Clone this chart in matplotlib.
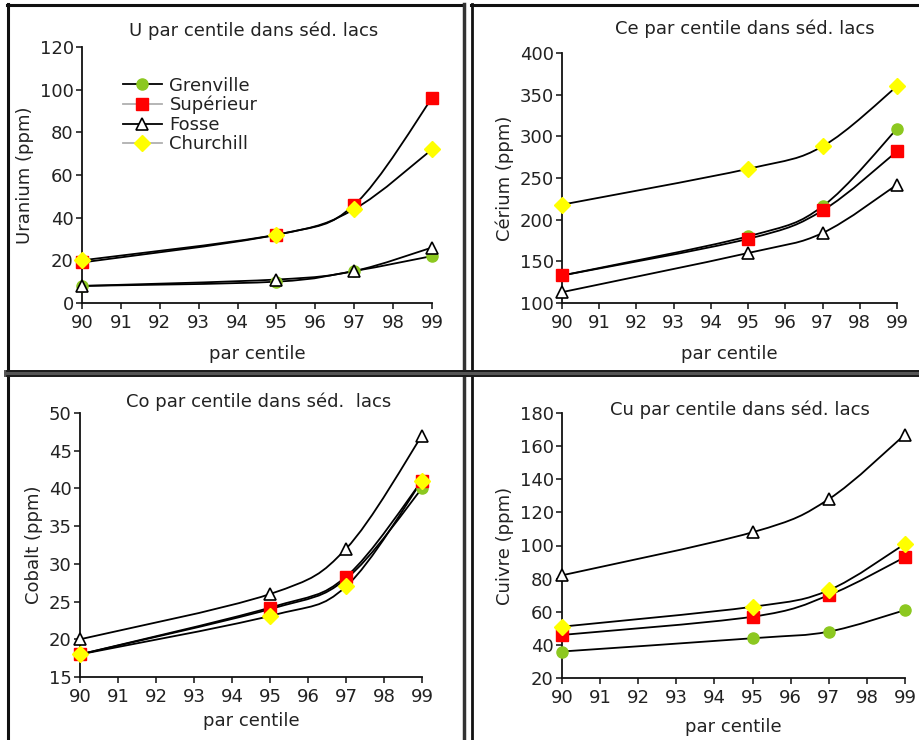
import matplotlib
matplotlib.use("Agg")
import matplotlib.pyplot as plt
from matplotlib.path import Path
from matplotlib.patches import PathPatch
from matplotlib.lines import Line2D

plt.rcParams['font.family'] = ['DejaVu Sans']

# centiles
centiles = [90, 95, 97, 99]
series = ['Grenville', 'Supérieur', 'Fosse', 'Churchill']

# Uranium (ppm)
u_gren = [8, 10, 15, 22]
u_sup = [19, 32, 46, 96]
u_fos = [8, 11, 15, 26]
u_chu = [20, 32, 44, 72]

# Cerium (ppm)
ce_gren = [133, 180, 216, 309]
ce_sup = [133, 177, 211, 282]
ce_fos = [113, 160, 184, 242]
ce_chu = [218, 261, 288, 360]

# Cobalt (ppm)
co_gren = [18, 24, 28, 40]
co_sup = [18, 24.2, 28.3, 41]
co_fos = [20, 26, 32, 47]
co_chu = [18, 23.1, 27, 41]

# Cuivre (ppm)
cu_gren = [36, 44, 48, 61]
cu_sup = [46, 57, 70, 93]
cu_fos = [82, 108, 128, 167]
cu_chu = [51, 63, 73, 101]

styles = {
    'Grenville': dict(marker='o', ms=8, mfc='#8cc820', mec='#8cc820'),
    'Supérieur': dict(marker='s', ms=9, mfc='#ff0000', mec='#ff0000'),
    'Fosse': dict(marker='^', ms=9, mfc='white', mec='black', mew=1.2),
    'Churchill': dict(marker='D', ms=8, mfc='#ffff00', mec='#ffff00'),
}
legend_line = {'Grenville': 'black', 'Supérieur': '#b0b0b0',
               'Fosse': 'black', 'Churchill': '#b0b0b0'}

txt = '#222222'


def smooth_path(x, y):
    # bezier through the points, like a spreadsheet "smoothed line"
    pts = list(zip(x, y))
    n = len(pts)
    verts = [pts[0]]
    codes = [Path.MOVETO]
    for i in range(n - 1):
        p0 = pts[i - 1] if i > 0 else pts[i]
        p1 = pts[i]
        p2 = pts[i + 1]
        p3 = pts[i + 2] if i + 2 < n else pts[i + 1]
        c1 = (p1[0] + (p2[0] - p0[0]) / 6, p1[1] + (p2[1] - p0[1]) / 6)
        c2 = (p2[0] - (p3[0] - p1[0]) / 6, p2[1] - (p3[1] - p1[1]) / 6)
        verts += [c1, c2, p2]
        codes += [Path.CURVE4] * 3
    return Path(verts, codes)


def panel(rect, data, ymin, ymax, ystep, title, ylabel, title_xy, xpad):
    ax = fig.add_axes(rect)
    for name, vals in zip(series, data):
        ax.add_patch(PathPatch(smooth_path(centiles, vals), fill=False,
                               ec='black', lw=1.3, zorder=2))
    for name, vals in zip(series, data):
        ax.plot(centiles, vals, ls='none', zorder=3, clip_on=False,
                **styles[name])
    ax.set_xlim(90, 99)
    ax.set_ylim(ymin, ymax)
    ax.set_xticks(range(90, 100))
    ax.set_yticks(range(ymin, ymax + 1, ystep))
    for s in ['top', 'right']:
        ax.spines[s].set_visible(False)
    for s in ['left', 'bottom']:
        ax.spines[s].set_linewidth(1.3)
        ax.spines[s].set_color('#111111')
    ax.tick_params(labelsize=13, colors=txt, length=4, width=1.2, pad=2)
    ax.tick_params(axis='x', pad=4)
    ax.set_xlabel('par centile', fontsize=13, color=txt, labelpad=xpad)
    ax.set_ylabel(ylabel, fontsize=13, color=txt, labelpad=4)
    fig.text(title_xy[0], title_xy[1], title, fontsize=13, color=txt,
             ha='center', va='center')
    return ax


fig = plt.figure(figsize=(9.2, 7.4), dpi=100)
W, H = 920.0, 740.0


def r(x0, y0, x1, y1):
    return [x0 / W, 1 - y1 / H, (x1 - x0) / W, (y1 - y0) / H]


ax1 = panel(r(82, 47, 432, 303), [u_gren, u_sup, u_fos, u_chu], 0, 120, 20,
            'U par centile dans séd. lacs', 'Uranium (ppm)',
            (254 / W, 1 - 31 / H), 9)
ax2 = panel(r(562, 53, 897, 303), [ce_gren, ce_sup, ce_fos, ce_chu], 100, 400, 50,
            'Ce par centile dans séd. lacs', 'Cérium (ppm)',
            (745 / W, 1 - 29 / H), 9)
ax3 = panel(r(80, 413, 422, 677), [co_gren, co_sup, co_fos, co_chu], 15, 50, 5,
            'Co par centile dans séd.  lacs', 'Cobalt (ppm)',
            (259 / W, 1 - 402 / H), 4)
ax4 = panel(r(562, 413, 905, 678), [cu_gren, cu_sup, cu_fos, cu_chu], 20, 180, 20,
            'Cu par centile dans séd. lacs', 'Cuivre (ppm)',
            (740 / W, 1 - 410 / H), 8)

handles = [Line2D([], [], color=legend_line[n], lw=1.3, **styles[n]) for n in series]
ax1.legend(handles, series, loc='upper left', bbox_to_anchor=(0.09, 0.92),
           frameon=False, fontsize=13, handlelength=2.2, handletextpad=0.4,
           labelspacing=0.08, labelcolor=txt, borderpad=0)


# panel frames
def hline(y, x0, x1, lw, c):
    fig.add_artist(Line2D([x0 / W, x1 / W], [1 - y / H, 1 - y / H], lw=lw, color=c))


def vline(x, y0, y1, lw, c):
    fig.add_artist(Line2D([x / W, x / W], [1 - y0 / H, 1 - y1 / H], lw=lw, color=c))


hline(5, 7, 464, 2.2, '#111111')
hline(5, 471, 920, 2.2, '#111111')
vline(8, 4, 740, 2.2, '#111111')
vline(464, 4, 740, 2.5, '#333333')
vline(472, 4, 740, 2.0, '#111111')
hline(373, 7, 920, 5, '#555555')
hline(370.5, 7, 920, 1.2, '#111111')
hline(375.5, 7, 920, 1.2, '#111111')

fig.savefig('out.png', dpi=100)
